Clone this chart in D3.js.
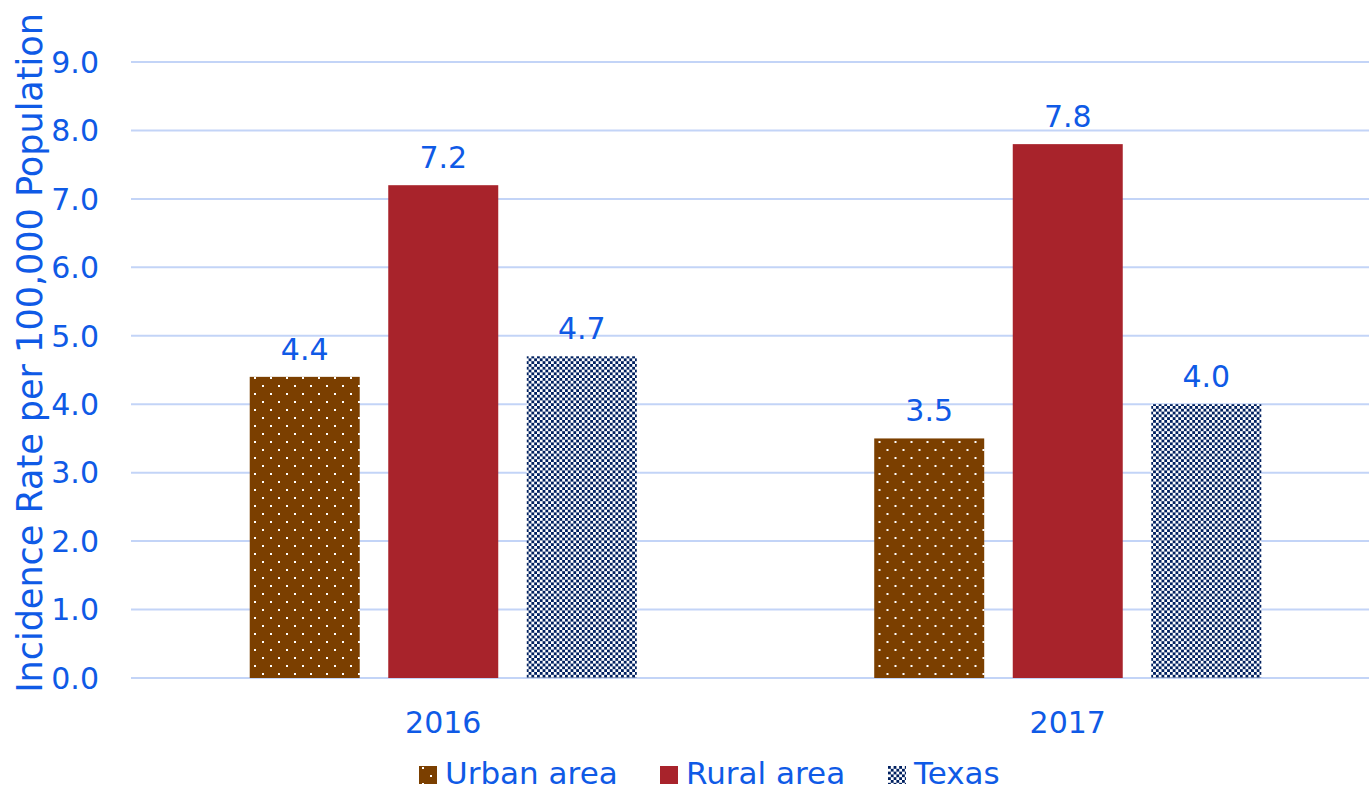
<!DOCTYPE html>
<html>
<head>
<meta charset="utf-8">
<script src="https://cdn.jsdelivr.net/npm/d3@7"></script>
<style>
  body { margin: 0; background: #fff; }
  text { font-family: "DejaVu Sans", Verdana, sans-serif; }
</style>
</head>
<body>
<div id="chart"></div>
<script>
// chart data
const years = ["2016", "2017"];
const seriesNames = ["Urban area", "Rural area", "Texas"];
const urbanValues = [4.4, 3.5];
const ruralValues = [7.2, 7.8];
const texasValues = [4.7, 4.0];
const yTicks = [0, 1, 2, 3, 4, 5, 6, 7, 8, 9];

const seriesValues = [urbanValues, ruralValues, texasValues];
const fills = ["url(#dots)", "#a8232b", "url(#checks)"];
const textBlue = "#0f5ae6";

const width = 1369, height = 790;
// plot area runs a little past the right edge of the picture
const margin = { top: 62, right: -11, bottom: 112, left: 131 };

const svg = d3.select("#chart").append("svg")
  .attr("width", width)
  .attr("height", height);

// fill patterns
const defs = svg.append("defs");
const dots = defs.append("pattern")
  .attr("id", "dots")
  .attr("patternUnits", "userSpaceOnUse")
  .attr("width", 16).attr("height", 16);
dots.append("rect").attr("width", 16).attr("height", 16).attr("fill", "#7b3f00");
dots.append("rect").attr("x", 3).attr("y", 1).attr("width", 2).attr("height", 2).attr("fill", "#fff");
dots.append("rect").attr("x", 11).attr("y", 9).attr("width", 2).attr("height", 2).attr("fill", "#fff");

const cs = 2.8;
const checks = defs.append("pattern")
  .attr("id", "checks")
  .attr("patternUnits", "userSpaceOnUse")
  .attr("width", cs * 2).attr("height", cs * 2);
checks.append("rect").attr("width", cs * 2).attr("height", cs * 2).attr("fill", "#fff");
checks.append("rect").attr("width", cs).attr("height", cs).attr("fill", "#002060");
checks.append("rect").attr("x", cs).attr("y", cs).attr("width", cs).attr("height", cs).attr("fill", "#002060");

const innerW = width - margin.left - margin.right;
const innerH = height - margin.top - margin.bottom;

const x0 = d3.scaleBand().domain(years).range([margin.left, margin.left + innerW]);
const x1 = d3.scaleBand().domain(seriesNames).range([0, x0.bandwidth()]).paddingInner(0.206).paddingOuter(0.857);
const y = d3.scaleLinear().domain([0, 9]).range([margin.top + innerH, margin.top]);

// gridlines
svg.append("g")
  .selectAll("line")
  .data(yTicks)
  .join("line")
  .attr("x1", margin.left)
  .attr("x2", width)
  .attr("y1", d => y(d))
  .attr("y2", d => y(d))
  .attr("stroke", "#c3d4f7")
  .attr("stroke-width", 2);

// y axis labels
svg.append("g")
  .selectAll("text")
  .data(yTicks)
  .join("text")
  .attr("x", 99)
  .attr("y", d => y(d))
  .attr("dy", "0.36em")
  .attr("text-anchor", "end")
  .attr("font-size", 30)
  .attr("fill", textBlue)
  .text(d => d.toFixed(1));

// y axis title
svg.append("text")
  .attr("transform", `translate(42,${(8 + 698) / 2}) rotate(-90)`)
  .attr("text-anchor", "middle")
  .attr("font-size", 35)
  .attr("fill", textBlue)
  .text("Incidence Rate per 100,000 Population");

// bars
const groups = svg.append("g")
  .selectAll("g")
  .data(years)
  .join("g")
  .attr("transform", d => `translate(${x0(d)},0)`);

groups.selectAll("rect")
  .data((d, i) => seriesNames.map((s, j) => ({ s, j, v: seriesValues[j][i] })))
  .join("rect")
  .attr("x", d => x1(d.s))
  .attr("width", x1.bandwidth())
  .attr("y", d => y(d.v))
  .attr("height", d => y(0) - y(d.v))
  .attr("fill", d => fills[d.j]);

groups.selectAll("text")
  .data((d, i) => seriesNames.map((s, j) => ({ s, j, v: seriesValues[j][i] })))
  .join("text")
  .attr("x", d => x1(d.s) + x1.bandwidth() / 2)
  .attr("y", d => y(d.v) - 17)
  .attr("text-anchor", "middle")
  .attr("font-size", 30)
  .attr("fill", textBlue)
  .text(d => d.v.toFixed(1));

// x axis labels
svg.append("g")
  .selectAll("text")
  .data(years)
  .join("text")
  .attr("x", d => x0(d) + x0.bandwidth() / 2)
  .attr("y", 733)
  .attr("text-anchor", "middle")
  .attr("font-size", 30)
  .attr("fill", textBlue)
  .text(d => d);

// legend
const legendX = [419, 660, 888];
const legend = svg.append("g")
  .selectAll("g")
  .data(seriesNames)
  .join("g")
  .attr("transform", (d, i) => `translate(${legendX[i]},766)`);
legend.append("rect")
  .attr("width", 18).attr("height", 18)
  .attr("fill", (d, i) => fills[i]);
legend.append("text")
  .attr("x", 26)
  .attr("y", 18)
  .attr("font-size", 31)
  .attr("fill", textBlue)
  .text(d => d);
</script>
</body>
</html>
